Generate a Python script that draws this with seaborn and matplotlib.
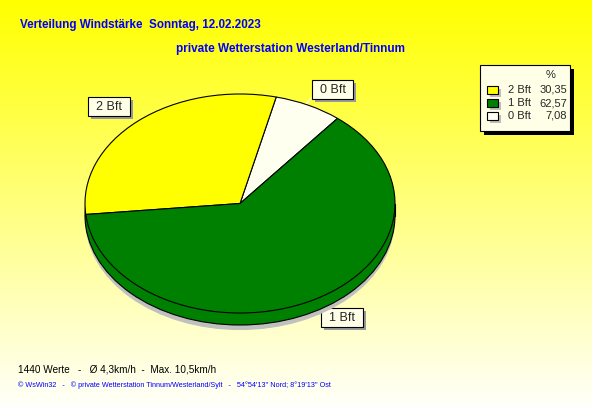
import numpy as np
import matplotlib
matplotlib.use('Agg')
import matplotlib.pyplot as plt
import seaborn as sns
from matplotlib.patches import Rectangle, Ellipse
from matplotlib.colors import LinearSegmentedColormap

# Daten
stufen = ['2 Bft', '1 Bft', '0 Bft']
anteile = [30.35, 62.57, 7.08]
farben = ['#FFFF00', '#008000', '#FFFFF0']

titel = 'Verteilung Windstärke  Sonntag, 12.02.2023'
untertitel = 'private Wetterstation Westerland/Tinnum'
info = '1440 Werte   -   Ø 4,3km/h  -  Max. 10,5km/h'
fuss = "© WsWin32   -   © private Wetterstation Tinnum/Westerland/Sylt   -   54°54'13'' Nord; 8°19'13'' Ost"

sns.set_theme(style='white')
plt.rcParams['font.family'] = ['Liberation Sans', 'DejaVu Sans']

W, H = 592, 407
fig = plt.figure(figsize=(W / 100, H / 100), dpi=100)

# Hintergrund (Pixelkoordinaten)
bg = fig.add_axes([0, 0, 1, 1])
bg.set_xlim(0, W)
bg.set_ylim(H, 0)
bg.axis('off')
cmap = LinearSegmentedColormap.from_list('gelb', ['#FFFF00', '#FFFFFA'])
bg.imshow(np.linspace(0, 1, 256).reshape(-1, 1), cmap=cmap, aspect='auto',
          extent=(0, W, H, 0), zorder=0)

bg.text(20, 25, titel, color='#0000FF', fontsize=8.4, fontweight='bold', va='center')
bg.text(176, 49, untertitel, color='#0000FF', fontsize=8.5, fontweight='bold', va='center')
bg.text(18, 370, info, color='black', fontsize=7.2, va='center')
bg.text(18, 385, fuss, color='#0000FF', fontsize=5.2, va='center')

# Tortendiagramm als Ellipse
pie_ax = fig.add_axes([85 / W, 1 - 313 / H, 310 / W, 219 / H])
pie_ax.set_xlim(-1, 1)
pie_ax.set_ylim(-1, 1)
pie_ax.axis('off')
dy = 12 / 109.5

schatten = Ellipse((0.0, -dy - 0.04), 1.99, 2.0, color='#C0C0C0', zorder=1, clip_on=False)
pie_ax.add_patch(schatten)
unten = Ellipse((0, -dy), 2.0, 2.0, facecolor='#008000', edgecolor='black', lw=0.8,
                zorder=2, clip_on=False)
pie_ax.add_patch(unten)
pie_ax.add_patch(Rectangle((-1, -dy), 2, dy, facecolor='#008000', edgecolor='none',
                           zorder=3, clip_on=False))
pie_ax.plot([-1, -1], [0, -dy], color='black', lw=0.8, zorder=3, clip_on=False)
pie_ax.plot([1, 1], [0, -dy], color='black', lw=0.8, zorder=3, clip_on=False)

reihe = [2, 0, 1]
wedges, _ = pie_ax.pie([anteile[i] for i in reihe], colors=[farben[i] for i in reihe],
                       startangle=51, counterclock=True, radius=1,
                       wedgeprops=dict(edgecolor='black', linewidth=0.8))
for w in wedges:
    w.set_zorder(4)
    w.set_clip_on(False)
pie_ax.set_xlim(-1, 1)
pie_ax.set_ylim(-1, 1)
pie_ax.set_aspect('auto')

# Beschriftungen mit Kasten
def kasten(x0, y0, x1, y1, text, schatten_farbe='#999999', off=3):
    bg.add_patch(Rectangle((x0 + off, y0 + off), x1 - x0, y1 - y0,
                           facecolor=schatten_farbe, edgecolor='none', zorder=5))
    bg.add_patch(Rectangle((x0, y0), x1 - x0, y1 - y0, facecolor='#FFFFE8',
                           edgecolor='black', lw=0.8, zorder=6))
    if text:
        bg.text((x0 + x1) / 2, (y0 + y1) / 2 + 0.5, text, fontsize=9, ha='center',
                va='center', zorder=7)

bg.plot([316, 322], [300, 309], color='white', lw=0.8, zorder=5)
bg.plot([306, 311], [104, 98], color='white', lw=0.8, zorder=5)
kasten(88, 97, 130, 116, stufen[0])
kasten(312, 80, 353, 99, stufen[2])
kasten(321, 308, 363, 327, stufen[1])

# Legende
kasten(480, 65, 570, 131, None, schatten_farbe='black', off=4)
bg.text(551, 75, '%', fontsize=8, ha='center', va='center', zorder=7)
for k, (s, a, f) in enumerate(zip(stufen, anteile, farben)):
    y = 90 + 13 * k
    bg.add_patch(Rectangle((490, y - 1), 11, 8, facecolor='#BDBDBD', edgecolor='none', zorder=7))
    bg.add_patch(Rectangle((487, y - 4), 11, 8, facecolor=f, edgecolor='black', lw=0.8, zorder=8))
    bg.text(508, y, s, fontsize=8, va='center', zorder=8)
    bg.text(567, y, f'{a:.2f}'.replace('.', ','), fontsize=8, ha='right', va='center', zorder=8)

fig.savefig('out.png', dpi=100)
